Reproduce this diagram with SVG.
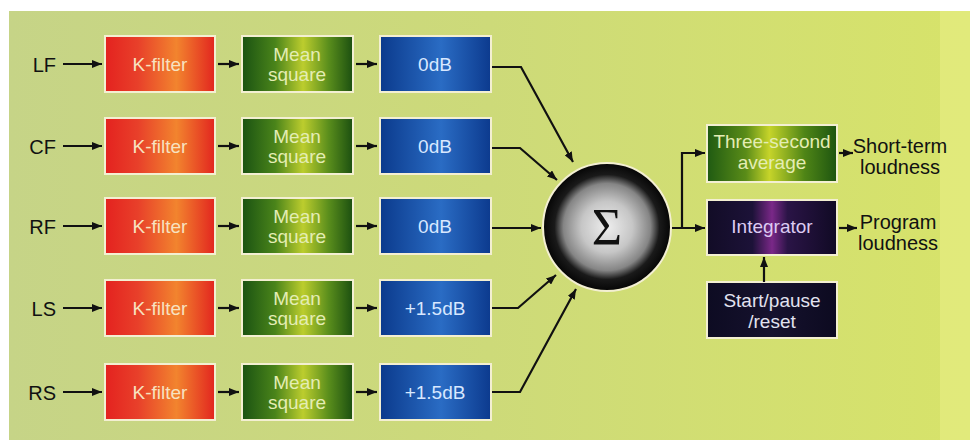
<svg xmlns="http://www.w3.org/2000/svg" width="970" height="440" viewBox="0 0 970 440">
<defs>
<linearGradient id="bg" x1="0" y1="0" x2="1" y2="0">
<stop offset="0" stop-color="#c6d487"/>
<stop offset="0.5" stop-color="#cdda79"/>
<stop offset="1" stop-color="#d7e36a"/>
</linearGradient>
<linearGradient id="gK" x1="0" y1="0" x2="1" y2="0">
<stop offset="0" stop-color="#e4221f"/>
<stop offset="0.3" stop-color="#e8402a"/>
<stop offset="0.65" stop-color="#f2842e"/>
<stop offset="1" stop-color="#e2251f"/>
</linearGradient>
<linearGradient id="gM" x1="0" y1="0" x2="1" y2="0">
<stop offset="0" stop-color="#1a5212"/>
<stop offset="0.3" stop-color="#4a841a"/>
<stop offset="0.55" stop-color="#bccd2e"/>
<stop offset="0.78" stop-color="#5a8e1c"/>
<stop offset="1" stop-color="#1b4f10"/>
</linearGradient>
<linearGradient id="gB" x1="0" y1="0" x2="1" y2="0">
<stop offset="0" stop-color="#0b3a8c"/>
<stop offset="0.55" stop-color="#2a6cc4"/>
<stop offset="1" stop-color="#0c3a8e"/>
</linearGradient>
<linearGradient id="gT" x1="0" y1="0" x2="1" y2="0">
<stop offset="0" stop-color="#1f5a12"/>
<stop offset="0.3" stop-color="#5a8c18"/>
<stop offset="0.48" stop-color="#c6d42a"/>
<stop offset="0.75" stop-color="#4f8516"/>
<stop offset="1" stop-color="#1d5410"/>
</linearGradient>
<linearGradient id="gI" x1="0" y1="0" x2="1" y2="0">
<stop offset="0" stop-color="#120c26"/>
<stop offset="0.35" stop-color="#1c1238"/>
<stop offset="0.5" stop-color="#7a2888"/>
<stop offset="0.62" stop-color="#2a1446"/>
<stop offset="1" stop-color="#100a24"/>
</linearGradient>
<linearGradient id="gS" x1="0" y1="0" x2="1" y2="0">
<stop offset="0" stop-color="#0d0b22"/>
<stop offset="0.5" stop-color="#16122e"/>
<stop offset="1" stop-color="#0c0a20"/>
</linearGradient>
<radialGradient id="gSig" cx="0.5" cy="0.5" r="0.5">
<stop offset="0" stop-color="#eeeeee"/>
<stop offset="0.4" stop-color="#c6c6c6"/>
<stop offset="0.68" stop-color="#858585"/>
<stop offset="0.82" stop-color="#1a1a1a"/>
<stop offset="1" stop-color="#050505"/>
</radialGradient>
<marker id="ah" viewBox="0 0 10 8" refX="10" refY="4" markerWidth="10" markerHeight="8" markerUnits="userSpaceOnUse" orient="auto">
<path d="M0,0 L10,4 L0,8 z" fill="#111"/>
</marker>
</defs>
<style>
.box{stroke:#f3efd2;stroke-width:2}
.bt{font-family:"Liberation Sans",Arial,sans-serif;font-size:19px;text-anchor:middle}
.kt{fill:#f7e2c0}
.mt{fill:#e4edb4}
.dt{fill:#d8e8ff}
.it{fill:#dccbf2}
.st{fill:#e2e2f0}
.lab{font-family:"Liberation Sans",Arial,sans-serif;font-size:20px;fill:#111}
.out{font-family:"Liberation Sans",Arial,sans-serif;font-size:20px;fill:#111;text-anchor:middle}
.c{fill:none;stroke:#111;stroke-width:2.2;marker-end:url(#ah)}
</style>
<rect x="0" y="0" width="970" height="440" fill="#ffffff"/>
<rect x="9" y="11" width="961" height="429" fill="url(#bg)"/>
<rect x="940" y="11" width="30" height="429" fill="#e3eb80" opacity="0.8"/>

<g id="row-LF">
<text class="lab" x="56" y="72" text-anchor="end">LF</text>
<g id="kfilter-LF"><rect class="box" x="105" y="36" width="110" height="56" fill="url(#gK)"/><text class="bt kt" x="160" y="71">K-filter</text></g>
<g id="mean-LF"><rect class="box" x="242" y="36" width="111" height="56" fill="url(#gM)"/><text class="bt mt" x="297" y="61">Mean</text><text class="bt mt" x="297" y="81">square</text></g>
<g id="gain-LF"><rect class="box" x="380" y="36" width="111" height="56" fill="url(#gB)"/><text class="bt dt" x="435" y="71">0dB</text></g>
</g>
<g id="row-CF">
<text class="lab" x="56" y="154" text-anchor="end">CF</text>
<g id="kfilter-CF"><rect class="box" x="105" y="118" width="110" height="56" fill="url(#gK)"/><text class="bt kt" x="160" y="153">K-filter</text></g>
<g id="mean-CF"><rect class="box" x="242" y="118" width="111" height="56" fill="url(#gM)"/><text class="bt mt" x="297" y="143">Mean</text><text class="bt mt" x="297" y="163">square</text></g>
<g id="gain-CF"><rect class="box" x="380" y="118" width="111" height="56" fill="url(#gB)"/><text class="bt dt" x="435" y="153">0dB</text></g>
</g>
<g id="row-RF">
<text class="lab" x="56" y="234" text-anchor="end">RF</text>
<g id="kfilter-RF"><rect class="box" x="105" y="198" width="110" height="56" fill="url(#gK)"/><text class="bt kt" x="160" y="233">K-filter</text></g>
<g id="mean-RF"><rect class="box" x="242" y="198" width="111" height="56" fill="url(#gM)"/><text class="bt mt" x="297" y="223">Mean</text><text class="bt mt" x="297" y="243">square</text></g>
<g id="gain-RF"><rect class="box" x="380" y="198" width="111" height="56" fill="url(#gB)"/><text class="bt dt" x="435" y="233">0dB</text></g>
</g>
<g id="row-LS">
<text class="lab" x="56" y="316" text-anchor="end">LS</text>
<g id="kfilter-LS"><rect class="box" x="105" y="280" width="110" height="56" fill="url(#gK)"/><text class="bt kt" x="160" y="315">K-filter</text></g>
<g id="mean-LS"><rect class="box" x="242" y="280" width="111" height="56" fill="url(#gM)"/><text class="bt mt" x="297" y="305">Mean</text><text class="bt mt" x="297" y="325">square</text></g>
<g id="gain-LS"><rect class="box" x="380" y="280" width="111" height="56" fill="url(#gB)"/><text class="bt dt" x="435" y="315">+1.5dB</text></g>
</g>
<g id="row-RS">
<text class="lab" x="56" y="400" text-anchor="end">RS</text>
<g id="kfilter-RS"><rect class="box" x="105" y="364" width="110" height="56" fill="url(#gK)"/><text class="bt kt" x="160" y="399">K-filter</text></g>
<g id="mean-RS"><rect class="box" x="242" y="364" width="111" height="56" fill="url(#gM)"/><text class="bt mt" x="297" y="389">Mean</text><text class="bt mt" x="297" y="409">square</text></g>
<g id="gain-RS"><rect class="box" x="380" y="364" width="111" height="56" fill="url(#gB)"/><text class="bt dt" x="435" y="399">+1.5dB</text></g>
</g>

<g id="sum">
<circle cx="607" cy="227" r="64" fill="url(#gSig)" stroke="#f3efd2" stroke-width="2"/>
<text x="607" y="245" text-anchor="middle" font-family="Liberation Serif,Times New Roman,serif" font-size="52" fill="#111">Σ</text>
</g>

<g id="three-second">
<rect class="box" x="707" y="125" width="130" height="57" fill="url(#gT)"/>
<text class="bt mt" x="772" y="148">Three-second</text>
<text class="bt mt" x="772" y="169">average</text>
</g>
<g id="integrator">
<rect class="box" x="707" y="200" width="130" height="55" fill="url(#gI)"/>
<text class="bt it" x="772" y="233">Integrator</text>
</g>
<g id="start-pause">
<rect class="box" x="707" y="282" width="130" height="56" fill="url(#gS)"/>
<text class="bt st" x="772" y="307">Start/pause</text>
<text class="bt st" x="772" y="328">/reset</text>
</g>
<g id="outputs">
<text class="out" x="900" y="153">Short-term</text>
<text class="out" x="900" y="174">loudness</text>
<text class="out" x="898" y="229">Program</text>
<text class="out" x="898" y="250">loudness</text>
</g>

<g id="connectors">
<path class="c" d="M63,64 H102"/>
<path class="c" d="M63,146 H102"/>
<path class="c" d="M63,226 H102"/>
<path class="c" d="M63,308 H102"/>
<path class="c" d="M63,392 H102"/>
<path class="c" d="M218,64 H239"/>
<path class="c" d="M218,146 H239"/>
<path class="c" d="M218,226 H239"/>
<path class="c" d="M218,308 H239"/>
<path class="c" d="M218,392 H239"/>
<path class="c" d="M356,64 H377"/>
<path class="c" d="M356,146 H377"/>
<path class="c" d="M356,226 H377"/>
<path class="c" d="M356,308 H377"/>
<path class="c" d="M356,392 H377"/>
<path class="c" d="M492,67 H521 L573,162"/>
<path class="c" d="M492,148 H520 L557,180"/>
<path class="c" d="M492,228 H541"/>
<path class="c" d="M492,308 H518 L556,275"/>
<path class="c" d="M492,392 H520 L576,289"/>
<path class="c" d="M672,228 H705"/>
<path class="c" d="M682,228 V153 H705"/>
<path class="c" d="M764,282 V257"/>
<path class="c" d="M839,153 H853"/>
<path class="c" d="M839,228 H857"/>
</g>
</svg>
